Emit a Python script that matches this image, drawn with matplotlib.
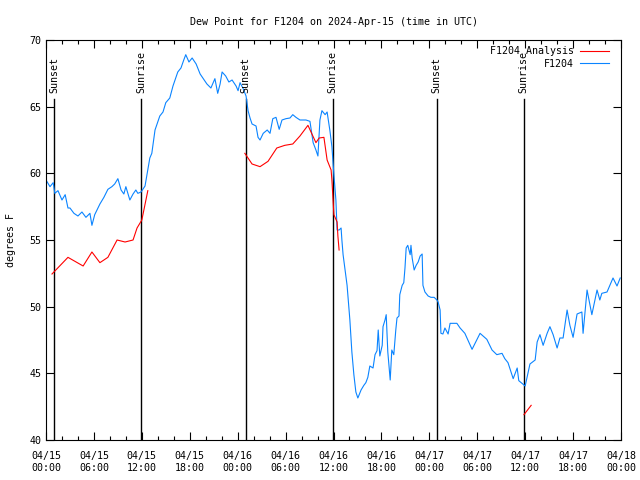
import matplotlib
matplotlib.use("Agg")
import matplotlib.pyplot as plt

# hours since 2024-04-15 00:00 UTC, dew point in F
obs_hours = [0.0, 0.5, 0.9, 1.1, 1.5, 2.0, 2.4, 2.75, 3.0, 3.5, 4.0, 4.5, 5.0, 5.5, 5.75,
             6.1, 6.75, 7.25, 7.75, 8.25, 8.6, 9.0, 9.4, 9.75, 10.0, 10.5, 10.9, 11.25, 11.5,
             11.9, 12.4, 12.75, 13.0, 13.25, 13.65, 14.0, 14.25, 14.65, 15.0, 15.5, 15.9,
             16.25, 16.5, 16.9, 17.25, 17.5, 17.9, 18.3, 18.8, 19.3, 19.8, 20.15, 20.65,
             21.15, 21.5, 21.8, 22.05, 22.5, 22.9, 23.3, 23.8, 24.05, 24.3, 24.65, 25.05,
             25.3, 25.55, 25.8, 26.3, 26.55, 26.8, 27.2, 27.7, 28.05, 28.4, 28.8, 29.2,
             29.55, 30.05, 30.55, 30.9, 31.3, 31.8, 32.55, 33.05, 33.45, 33.8, 34.05, 34.3,
             34.55, 34.95, 35.2, 35.55, 35.8, 36.05, 36.3, 36.45, 36.7, 36.95, 37.05, 37.2,
             37.45, 37.7, 38.05, 38.3, 38.55, 38.8, 39.05, 39.45, 39.8, 40.05, 40.3, 40.55,
             40.95, 41.2, 41.45, 41.6, 41.8, 42.1, 42.2, 42.45, 42.6, 42.8, 43.1, 43.3,
             43.55, 43.8, 43.95, 44.2, 44.3, 44.6, 44.8, 44.95, 45.1, 45.3, 45.6, 45.7,
             45.85, 46.1, 46.35, 46.6, 46.85, 47.1, 47.2, 47.45, 47.85, 48.2, 48.6, 48.95,
             49.1, 49.35, 49.45, 49.7, 49.95, 50.35, 50.6, 50.95, 51.45, 51.85, 52.45,
             53.35, 54.35, 55.2, 55.85, 56.45, 57.1, 57.45, 57.85, 58.5, 59.0, 59.2, 60.0,
             60.6, 61.25, 61.5, 61.85, 62.25, 62.75, 63.1, 63.5, 64.0, 64.35, 64.75, 65.25,
             65.6, 66.0, 66.5, 67.1, 67.25, 67.75, 68.35, 69.0, 69.35, 69.6, 70.25, 71.0,
             71.5, 71.9]
obs_dewp = [59.5, 59.0, 59.3, 58.5, 58.7, 58.0, 58.4, 57.4, 57.4, 57.0, 56.8, 57.1, 56.7,
            57.0, 56.1, 56.9, 57.7, 58.2, 58.8, 59.0, 59.2, 59.6, 58.75, 58.45, 59.0, 58.0,
            58.45, 58.75, 58.5, 58.6, 59.05, 60.25, 61.15, 61.5, 63.25, 63.85, 64.3, 64.6,
            65.3, 65.65, 66.55, 67.15, 67.6, 67.9, 68.5, 68.9, 68.35, 68.65, 68.2, 67.45,
            67.0, 66.7, 66.4, 67.1, 66.0, 66.7, 67.6, 67.3, 66.85, 67.0, 66.55, 66.2, 66.8,
            66.4, 65.8, 64.7, 64.15, 63.7, 63.55, 62.7, 62.5, 63.0, 63.25, 63.0, 64.1, 64.2,
            63.3, 64.0, 64.1, 64.15, 64.4, 64.2, 64.0, 64.0, 63.9, 62.3, 61.75, 61.3, 64.0,
            64.7, 64.4, 64.6, 63.2, 62.0, 59.9, 58.0, 55.75, 55.75, 55.9, 55.0, 53.9, 52.75,
            51.6, 49.0, 46.6, 44.9, 43.6, 43.15, 43.75, 44.1, 44.3, 44.7, 45.55, 45.4, 46.4,
            46.7, 48.25, 46.3, 47.1, 48.5, 49.0, 49.4, 46.6, 44.5, 46.75, 46.4, 48.25, 49.15,
            49.3, 50.9, 51.6, 51.8, 52.9, 54.4, 54.6, 53.9, 54.6, 53.65, 52.75, 53.1, 53.35,
            53.8, 53.95, 51.6, 51.1, 50.8, 50.7, 50.7, 50.5, 50.35, 49.75, 48.0, 47.95, 48.4,
            47.95, 48.75, 48.75, 48.75, 48.4, 48.0, 46.8, 48.0, 47.55, 46.75, 46.4, 46.5,
            46.1, 45.8, 44.6, 45.4, 44.45, 44.05, 45.7, 46.0, 47.35, 47.9, 47.1, 48.0, 48.5,
            47.9, 46.9, 47.65, 47.65, 49.75, 48.6, 47.7, 49.45, 49.6, 48.0, 51.25, 49.4,
            51.25, 50.5, 51.0, 51.1, 52.15, 51.55, 52.15]

# analysis runs (three separate pieces)
ana_hours = [[0.75, 2.75, 4.65, 5.75, 6.75, 7.75, 8.9, 9.9, 10.9, 11.4, 12.0, 12.75],
             [24.9, 25.8, 26.8, 27.8, 28.9, 29.9, 30.9, 31.8, 32.8, 33.8, 34.2, 34.8, 35.2,
              35.7, 35.8, 36.05, 36.45, 36.55, 36.7],
             [59.85, 60.75]]
ana_dewp = [[52.45, 53.7, 53.05, 54.1, 53.3, 53.7, 55.0, 54.85, 55.0, 55.9, 56.5, 58.7],
            [61.5, 60.7, 60.5, 60.9, 61.9, 62.1, 62.2, 62.8, 63.6, 62.3, 62.65, 62.7, 61.0,
             60.25, 59.5, 56.9, 56.35, 55.3, 54.25],
            [41.9, 42.6]]

sun_hours = [1.0, 11.9, 25.0, 35.9, 48.9, 59.8]
sun_labels = ["Sunset", "Sunrise", "Sunset", "Sunrise", "Sunset", "Sunrise"]

xtick_hours = [0, 6, 12, 18, 24, 30, 36, 42, 48, 54, 60, 66, 72]
xtick_labels = ["04/15\n00:00", "04/15\n06:00", "04/15\n12:00", "04/15\n18:00",
                "04/16\n00:00", "04/16\n06:00", "04/16\n12:00", "04/16\n18:00",
                "04/17\n00:00", "04/17\n06:00", "04/17\n12:00", "04/17\n18:00",
                "04/18\n00:00"]

plt.rcParams['font.family'] = ['DejaVu Sans Mono']
fs = 7.2

fig = plt.figure(figsize=(6.4, 4.8), dpi=100)
ax = fig.add_axes([46 / 640, 40 / 480, 575 / 640, 400 / 480])

for i in range(len(ana_hours)):
    ax.plot(ana_hours[i], ana_dewp[i], color='#ff0000', lw=0.8,
            label='F1204 Analysis' if i == 0 else None, zorder=3)
ax.plot(obs_hours, obs_dewp, color='#0a84ff', lw=0.8, label='F1204', zorder=2)

# sunrise / sunset markers
for h, lab in zip(sun_hours, sun_labels):
    ax.axvline(h, ymin=0, ymax=0.853, color='black', lw=1.0, zorder=1)
    ax.text(h, 66.0, lab, rotation=90, ha='center', va='bottom', fontsize=fs)

ax.set_xlim(0, 72)
ax.set_ylim(40, 70)
ax.set_xticks(xtick_hours)
ax.set_xticklabels(xtick_labels, fontsize=fs)
ax.set_xticks(range(0, 73, 2), minor=True)
ax.set_yticks(range(40, 71, 5))
ax.tick_params(axis='y', labelsize=fs)
ax.tick_params(which='both', direction='in', top=True, right=True)
ax.tick_params(which='major', length=6, width=0.8)
ax.tick_params(which='minor', length=3, width=0.8)
ax.tick_params(axis='x', pad=8)

for s in ax.spines.values():
    s.set_linewidth(0.8)

ax.set_ylabel('degrees F', fontsize=fs)
ax.yaxis.set_label_coords(-0.052, 0.5)
ax.set_title('Dew Point for F1204 on 2024-Apr-15 (time in UTC)', fontsize=fs, pad=11)

ax.legend(loc='upper right', bbox_to_anchor=(0.988, 0.997), frameon=False,
          markerfirst=False, fontsize=fs, handlelength=2.9, handletextpad=0.6,
          labelspacing=0.25, borderaxespad=0.2, borderpad=0.3)

fig.savefig('out.png', dpi=100)
